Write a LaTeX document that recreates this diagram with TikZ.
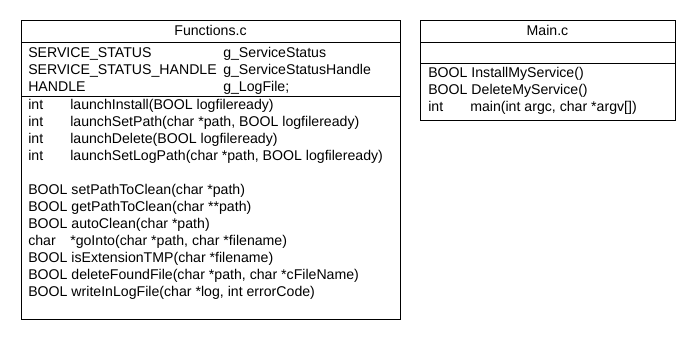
\documentclass[tikz,border=0pt]{standalone}
\usepackage{fontspec}
\setmainfont{Liberation Sans}
\usepackage{tikz}

\tikzset{
  member/.style={anchor=base west, inner sep=0pt, font=\fontsize{10.6}{12}\selectfont},
  title/.style={anchor=base, inner sep=0pt, font=\fontsize{10.6}{12}\selectfont},
}

\begin{document}
\begin{tikzpicture}[x=0.75pt, y=-0.75pt]
    \useasboundingbox (0,0) rectangle (690,340);
    % Functions.c class box
    \draw (21,20) rectangle (400,319); % outer frame
    \draw (21,42) -- (400,42); % under the title
    \draw (21,96) -- (400,96); % attributes / operations
    \node[title] (fname) at (210.5,35) {Functions.c};
    % attributes
    \node[member] (a1t) at (28,57) {SERVICE\_STATUS};
    \node[member] (a1n) at (223,57) {g\_ServiceStatus};
    \node[member] (a2t) at (28,74) {SERVICE\_STATUS\_HANDLE};
    \node[member] (a2n) at (223,74) {g\_ServiceStatusHandle};
    \node[member] (a3t) at (28,91) {HANDLE};
    \node[member] (a3n) at (223,91) {g\_LogFile;};
    % operations
    \node[member] (o1t) at (28,109) {int};
    \node[member] (o1n) at (70,109) {launchInstall(BOOL logfileready)};
    \node[member] (o2t) at (28,126) {int};
    \node[member] (o2n) at (70,126) {launchSetPath(char *path, BOOL logfileready)};
    \node[member] (o3t) at (28,143) {int};
    \node[member] (o3n) at (70,143) {launchDelete(BOOL logfileready)};
    \node[member] (o4t) at (28,160) {int};
    \node[member] (o4n) at (70,160) {launchSetLogPath(char *path, BOOL logfileready)};
    \node[member] (o5) at (28,194) {BOOL setPathToClean(char *path)};
    \node[member] (o6) at (28,211) {BOOL getPathToClean(char **path)};
    \node[member] (o7) at (28,228) {BOOL autoClean(char *path)};
    \node[member] (o8t) at (28,245) {char};
    \node[member] (o8n) at (70,245) {*goInto(char *path, char *filename)};
    \node[member] (o9) at (28,262) {BOOL isExtensionTMP(char *filename)};
    \node[member] (o10) at (28,279) {BOOL deleteFoundFile(char *path, char *cFileName)};
    \node[member] (o11) at (28,296) {BOOL writeInLogFile(char *log, int errorCode)};

    % Main.c class box
    \draw (420,20) rectangle (675,120); % outer frame
    \draw (420,42) -- (675,42); % under the title
    \draw (420,63) -- (675,63); % empty attributes
    \node[title] (mname) at (547.5,35) {Main.c};
    \node[member] (m1) at (428,77) {BOOL InstallMyService()};
    \node[member] (m2) at (428,94) {BOOL DeleteMyService()};
    \node[member] (m3t) at (428,111) {int};
    \node[member] (m3n) at (470,111) {main(int argc, char *argv[])};
\end{tikzpicture}
\end{document}
